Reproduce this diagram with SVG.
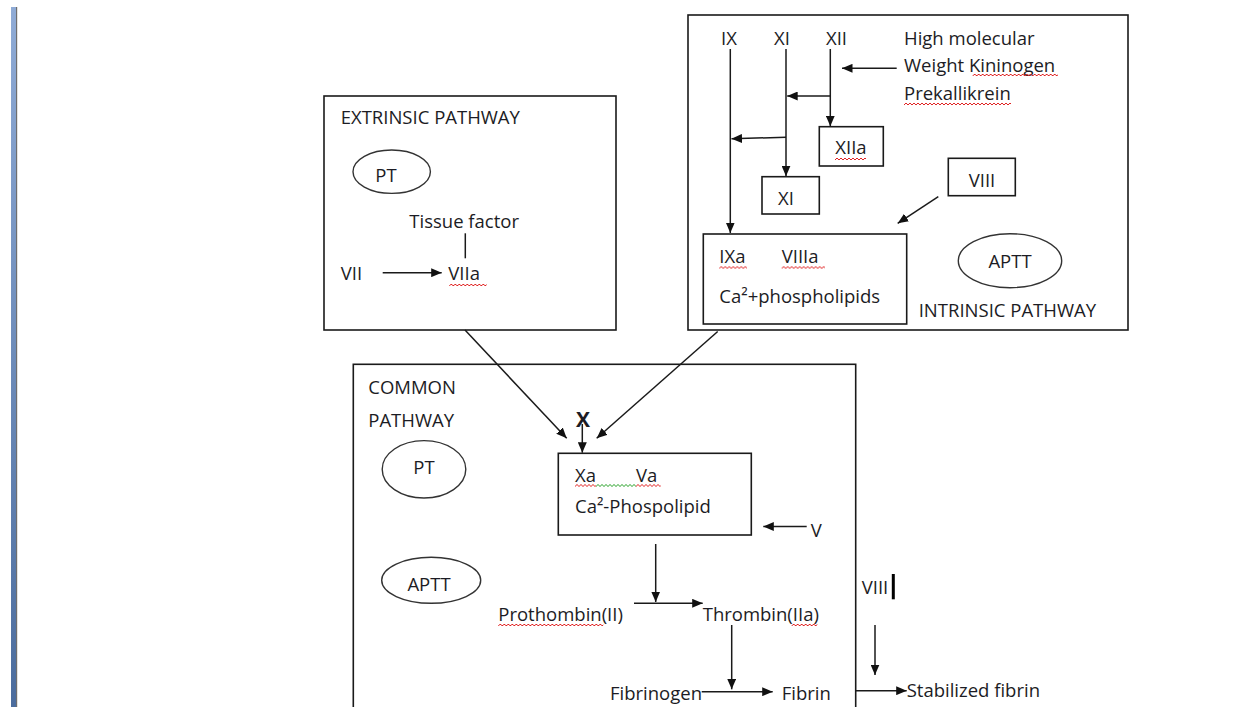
<svg xmlns="http://www.w3.org/2000/svg" width="1248" height="707" viewBox="0 0 1248 707">
<style>
  text { font-family: "Open Sans", "Noto Sans", "Liberation Sans", sans-serif; font-size: 18.5px; fill: #1c1c24; }
  .mid { text-anchor: middle; }
  .bold { font-weight: bold; font-size: 21px; }
  .box { fill: none; stroke: #1a1a1a; stroke-width: 1.6; }
  .oval { fill: none; stroke: #333; stroke-width: 1.4; }
  .con { fill: none; stroke: #1a1a1a; stroke-width: 1.5; }
  .arr { marker-end: url(#ah); }
  .sqr { fill: url(#wr); }
  .sqg { fill: url(#wg); }
</style>
<defs>
  <marker id="ah" markerUnits="userSpaceOnUse" markerWidth="11" markerHeight="9" refX="10.5" refY="4.5" orient="auto">
    <path d="M0,0 L10.5,4.5 L0,9 z" fill="#111"/>
  </marker>
  <pattern id="wr" width="4" height="4" patternUnits="userSpaceOnUse">
    <path d="M-1,4 L0,3 L2,1 L4,3 L5,4" fill="none" stroke="#e02424" stroke-width="1"/>
  </pattern>
  <pattern id="wg" width="4" height="4" patternUnits="userSpaceOnUse">
    <path d="M-1,4 L0,3 L2,1 L4,3 L5,4" fill="none" stroke="#2aa02a" stroke-width="1"/>
  </pattern>
  <linearGradient id="bar" x1="0" y1="0" x2="0" y2="1">
    <stop offset="0" stop-color="#8fabd6"/>
    <stop offset="1" stop-color="#4b6c9d"/>
  </linearGradient>
</defs>
<rect x="0" y="0" width="1248" height="707" fill="#ffffff"/>
<g id="page-edge">
  <rect x="11" y="7" width="5" height="700" fill="url(#bar)"/>
  <rect x="16" y="7" width="1.2" height="700" fill="#6e6e6e"/>
</g>

<g id="intrinsic-pathway">
  <rect class="box" x="688" y="15" width="440" height="315"/>
  <text x="918.7" y="316.7">INTRINSIC PATHWAY</text>
</g>
<g id="n-IX"><text x="721" y="45">IX</text></g>
<g id="n-XI"><text x="774" y="45">XI</text></g>
<g id="n-XII"><text x="826" y="45">XII</text></g>
<g id="n-hmwk">
  <text x="904" y="45">High molecular</text>
  <text x="904" y="71.7">Weight Kininogen</text>
  <text x="904" y="100">Prekallikrein</text>
  <rect class="sqr" transform="translate(972.7,73)" width="85.3" height="4"/>
  <rect class="sqr" transform="translate(904,102)" width="107" height="4"/>
</g>
<g id="n-XIIa">
  <rect class="box" x="819.3" y="126.7" width="64" height="39.3"/>
  <text class="mid" x="851" y="154">XIIa</text>
  <rect class="sqr" transform="translate(835,157)" width="31" height="4"/>
</g>
<g id="n-XI-box">
  <rect class="box" x="762" y="176.7" width="57.3" height="37.3"/>
  <text class="mid" x="786" y="205">XI</text>
</g>
<g id="n-VIII-box">
  <rect class="box" x="948.3" y="158.3" width="67" height="37.4"/>
  <text class="mid" x="982" y="186.7">VIII</text>
</g>
<g id="n-tenase">
  <rect class="box" x="703.3" y="234" width="203.4" height="90"/>
  <text x="719.3" y="263.3">IXa</text>
  <text x="781.7" y="263.3">VIIIa</text>
  <text x="719.3" y="302.7">Ca²+phospholipids</text>
  <rect class="sqr" transform="translate(719.3,265.5)" width="27.7" height="4"/>
  <rect class="sqr" transform="translate(781.7,265.5)" width="43.3" height="4"/>
</g>
<g id="n-APTT-intrinsic">
  <ellipse class="oval" cx="1010" cy="260.7" rx="51.7" ry="27"/>
  <text class="mid" x="1010" y="267.7">APTT</text>
</g>

<g id="extrinsic-pathway">
  <rect class="box" x="324" y="96" width="292" height="234"/>
  <text x="340.7" y="124.3">EXTRINSIC PATHWAY</text>
</g>
<g id="n-PT-extrinsic">
  <ellipse class="oval" cx="391.7" cy="171.7" rx="38.7" ry="21.7"/>
  <text class="mid" x="386" y="181.7">PT</text>
</g>
<g id="n-tissue-factor"><text x="409.3" y="228.3">Tissue factor</text></g>
<g id="n-VII"><text x="340.7" y="280">VII</text></g>
<g id="n-VIIa">
  <text x="448.3" y="280">VIIa</text>
  <rect class="sqr" transform="translate(449.3,283)" width="37.4" height="4"/>
</g>

<g id="common-pathway">
  <rect class="box" x="353.3" y="364.3" width="502.4" height="400"/>
  <text x="368.3" y="394.3">COMMON</text>
  <text x="368.3" y="426.7">PATHWAY</text>
</g>
<g id="n-PT-common">
  <ellipse class="oval" cx="424" cy="469.3" rx="41.8" ry="28.7"/>
  <text class="mid" x="424" y="474">PT</text>
</g>
<g id="n-APTT-common">
  <ellipse class="oval" cx="431.2" cy="580.3" rx="49.5" ry="23"/>
  <text class="mid" x="429" y="590.7">APTT</text>
</g>
<g id="n-X"><text class="mid bold" x="583" y="427">X</text></g>
<g id="n-prothrombinase">
  <rect class="box" x="558.3" y="453.3" width="193" height="81.7"/>
  <text x="575" y="481.7">Xa</text>
  <text x="636" y="481.7">Va</text>
  <text x="575" y="512.7">Ca²-Phospolipid</text>
  <rect class="sqr" transform="translate(575,483.5)" width="21" height="4"/>
  <rect class="sqg" transform="translate(596,483.5)" width="40" height="4"/>
  <rect class="sqr" transform="translate(636,483.5)" width="24.7" height="4"/>
</g>
<g id="n-V"><text x="810.7" y="537">V</text></g>
<g id="n-prothrombin">
  <text x="498.3" y="620.7">Prothombin(II)</text>
  <rect class="sqr" transform="translate(498.3,623)" width="105" height="4"/>
</g>
<g id="n-thrombin">
  <text x="702.7" y="620.7">Thrombin(IIa)</text>
  <rect class="sqr" transform="translate(791.7,623)" width="25.6" height="4"/>
</g>
<g id="n-fibrinogen"><text x="610" y="700">Fibrinogen</text></g>
<g id="n-fibrin"><text x="781.7" y="700">Fibrin</text></g>
<g id="n-VIII-outside">
  <text x="861.7" y="594">VIII</text>
  <rect x="891.8" y="574" width="3" height="25.3" fill="#000"/>
</g>
<g id="n-stabilized-fibrin"><text x="906.7" y="697">Stabilized fibrin</text></g>

<g id="connectors">
  <path class="con arr" d="M896.7,68.3 L842,68.3"/>
  <path class="con arr" d="M730.3,49 L730.3,233"/>
  <path class="con arr" d="M786,49 L786,176.2"/>
  <path class="con arr" d="M830.3,49 L830.3,126.2"/>
  <path class="con arr" d="M830.3,96 L787.2,96"/>
  <path class="con arr" d="M786,137.3 L731.5,138.7"/>
  <path class="con arr" d="M938.3,196.7 L897.7,223.3"/>
  <path class="con" d="M465.3,233.3 L465.3,258.3"/>
  <path class="con arr" d="M382.7,272.7 L441.7,272.7"/>
  <path class="con arr" d="M465,330 L566.7,438.3"/>
  <path class="con arr" d="M717.7,331.5 L596.7,438.3"/>
  <path class="con arr" d="M582.3,424 L582.3,452.7"/>
  <path class="con arr" d="M806.7,526.5 L763.3,526.5"/>
  <path class="con arr" d="M655.7,544 L655.7,602"/>
  <path class="con arr" d="M634,603.3 L702.7,603.3"/>
  <path class="con arr" d="M731.7,625 L731.7,689.3"/>
  <path class="con arr" d="M701.7,691.7 L772.7,691.7"/>
  <path class="con arr" d="M875,625 L875,675"/>
  <path class="con arr" d="M855.7,690.7 L906.7,690.7"/>
</g>
</svg>
